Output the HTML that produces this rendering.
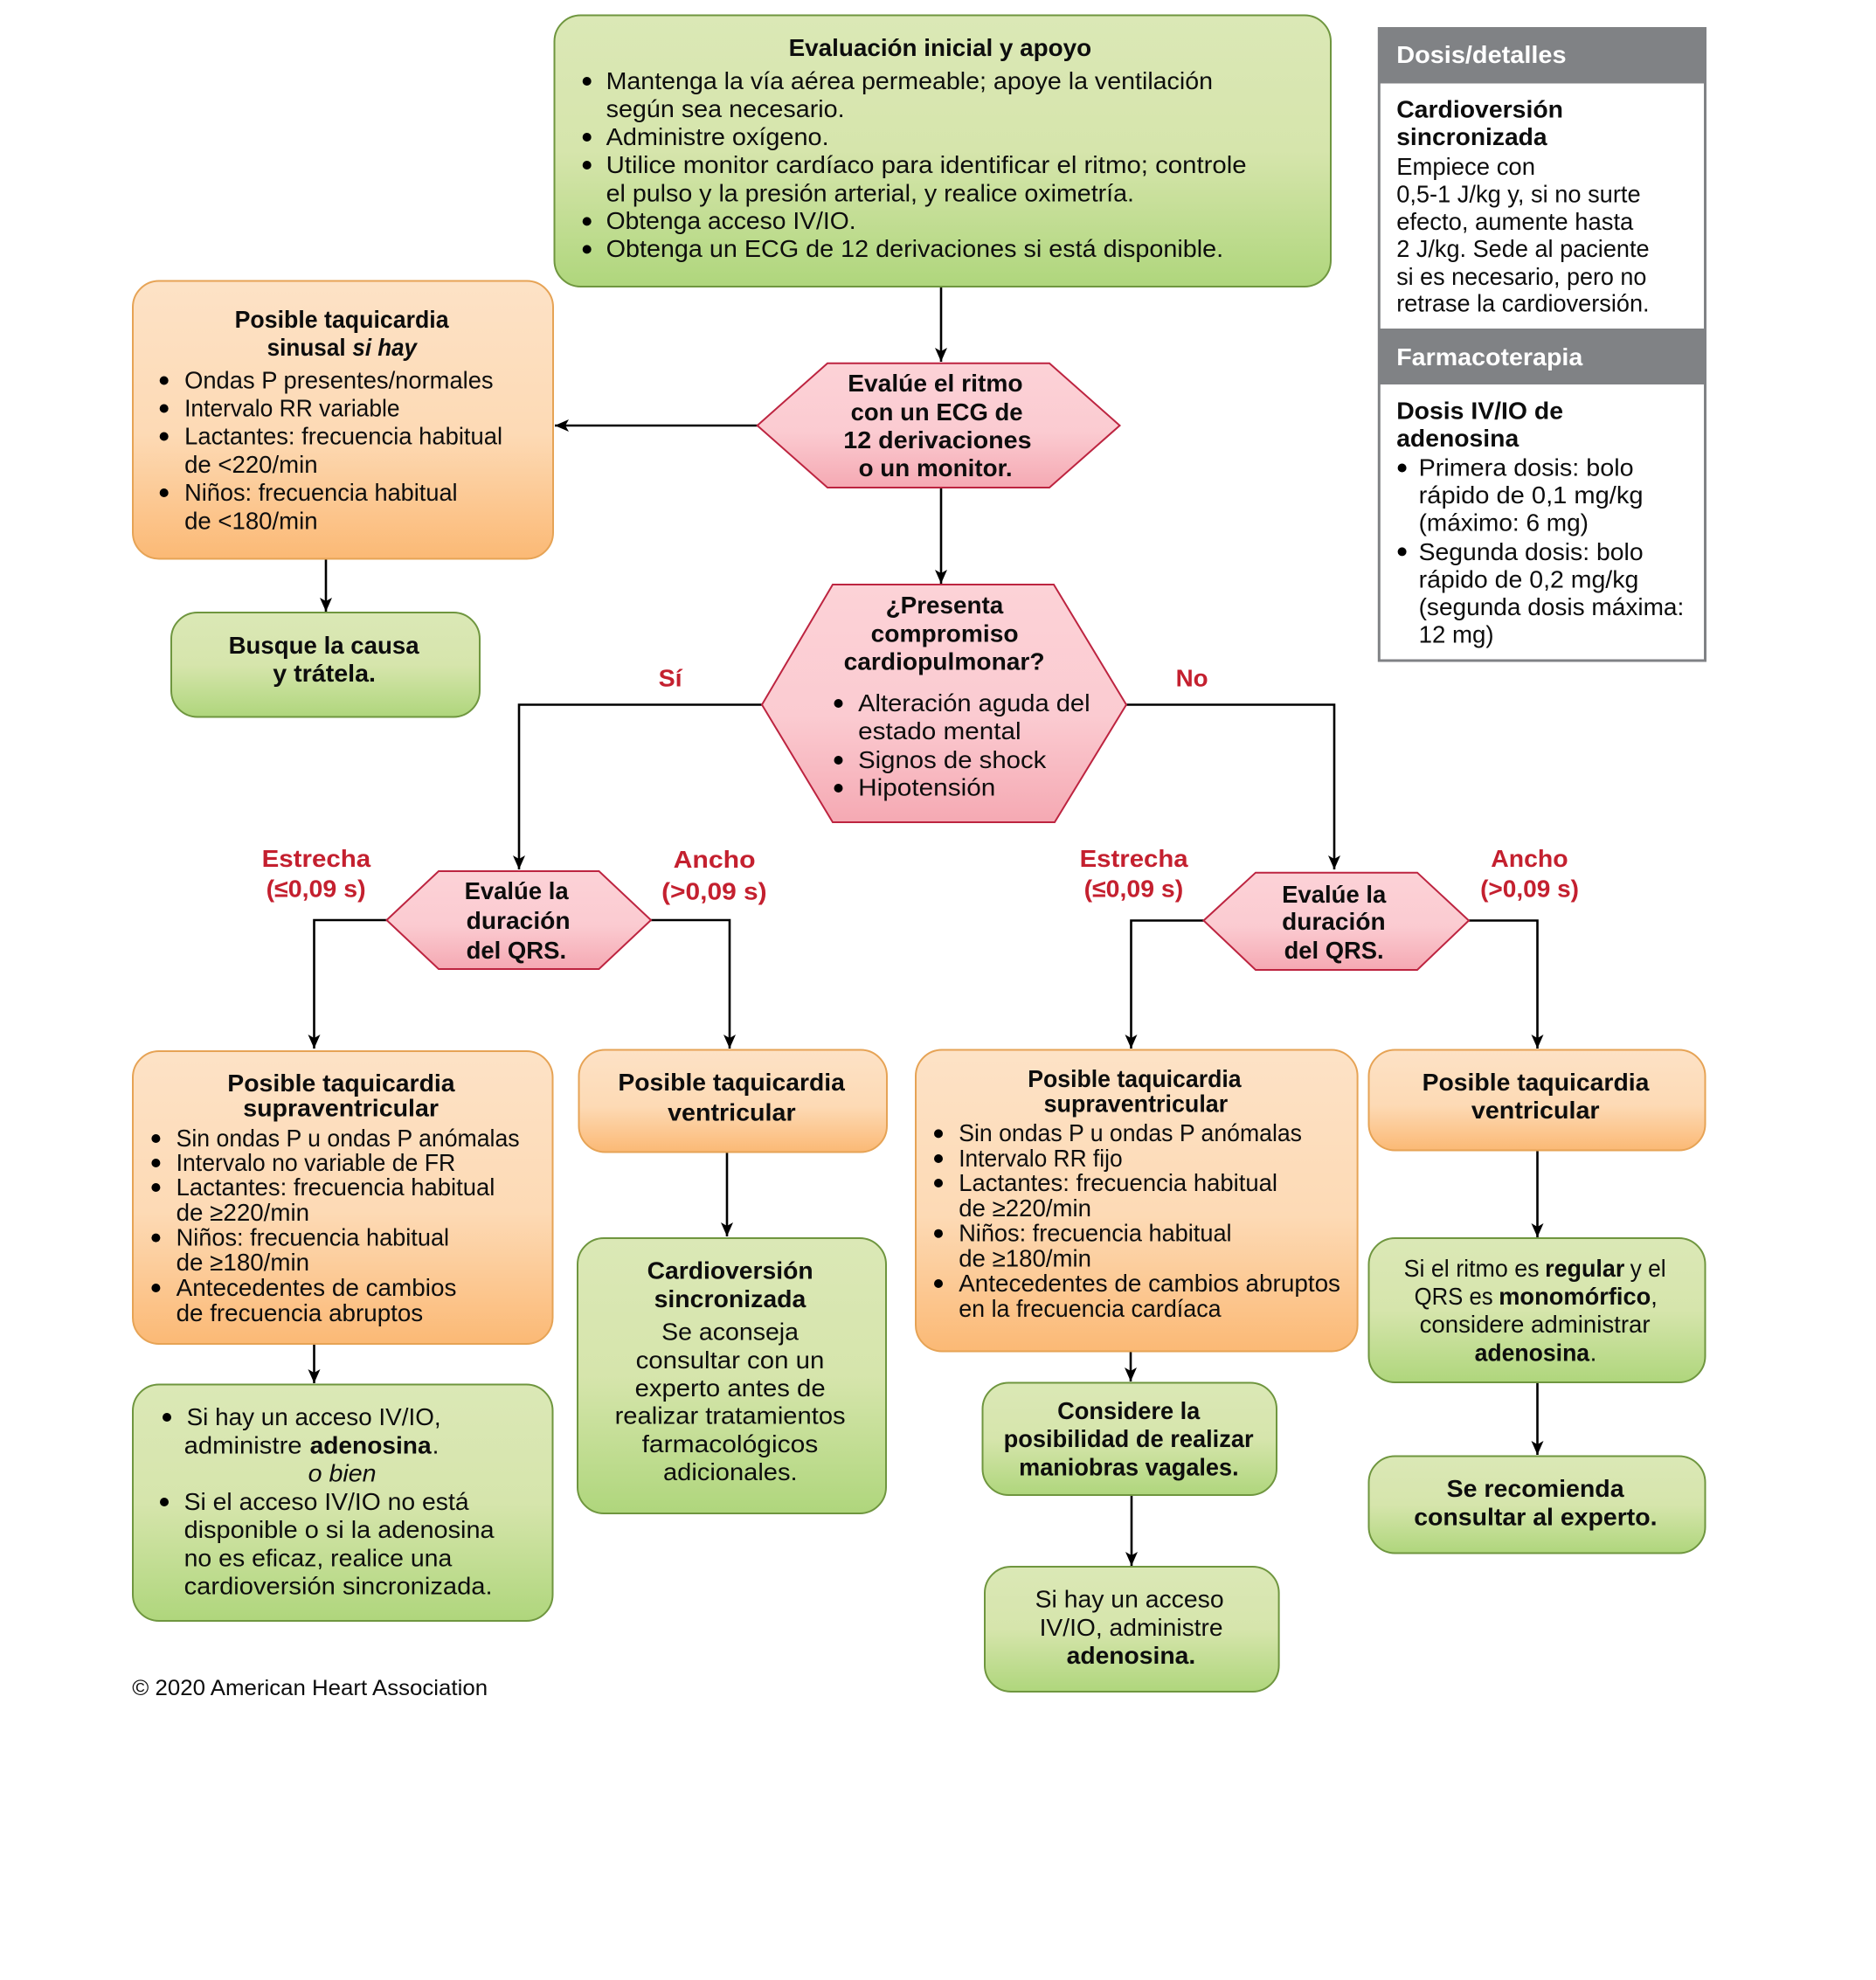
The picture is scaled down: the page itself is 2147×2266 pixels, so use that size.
<!DOCTYPE html>
<html lang="es"><head><meta charset="utf-8"><title>Taquicardia pediátrica</title>
<style>
html,body{margin:0;padding:0;background:#fff}
svg{display:block}
text{font-family:"Liberation Sans",Arial,sans-serif;font-size:28px;fill:#0d0d0d;transform:translate(-.4px,-1.2px)}
.b{font-weight:700}
.i{font-style:italic}
.r{fill:#c4202f;font-weight:700}
.w{fill:#fff;font-weight:700}
.g{stroke:#6f963f;stroke-width:2;fill:url(#gr)}
.o{stroke:#e6a355;stroke-width:2;fill:url(#or)}
.p{stroke:#bd2440;stroke-width:2;fill:url(#pk)}
.l{fill:none;stroke:#000;stroke-width:2.6}
</style></head><body>
<svg xmlns="http://www.w3.org/2000/svg" width="2147" height="2266" viewBox="0 0 2147 2266">
<defs>
<linearGradient id="gr" x1="0" y1="0" x2="0" y2="1"><stop offset="0" stop-color="#dbe8b6"/><stop offset=".5" stop-color="#d6e5ac"/><stop offset="1" stop-color="#afd67c"/></linearGradient>
<linearGradient id="or" x1="0" y1="0" x2="0" y2="1"><stop offset="0" stop-color="#fde2c6"/><stop offset=".55" stop-color="#fddab5"/><stop offset="1" stop-color="#fbb975"/></linearGradient>
<linearGradient id="pk" x1="0" y1="0" x2="0" y2="1"><stop offset="0" stop-color="#fcd2d7"/><stop offset=".55" stop-color="#fbcbd1"/><stop offset="1" stop-color="#f5a9b3"/></linearGradient>
<marker id="a" markerUnits="userSpaceOnUse" markerWidth="16" markerHeight="18" refX="16" refY="7" orient="auto"><path d="M0 0L16 7L0 14L4 7Z" fill="#000"/></marker>
</defs>

<!-- connectors -->
<path class="l" marker-end="url(#a)" d="M1077 328V414"/>
<path class="l" marker-end="url(#a)" d="M867 487H635"/>
<path class="l" marker-end="url(#a)" d="M1077 558V668"/>
<path class="l" marker-end="url(#a)" d="M373 640V700"/>
<path class="l" marker-end="url(#a)" d="M872 806.5H594V995"/>
<path class="l" marker-end="url(#a)" d="M1289 806.5H1527V995"/>
<path class="l" marker-end="url(#a)" d="M443 1053H359.5V1200"/>
<path class="l" marker-end="url(#a)" d="M745 1053H835V1200"/>
<path class="l" marker-end="url(#a)" d="M1378 1053.5H1294.5V1200"/>
<path class="l" marker-end="url(#a)" d="M1681 1053.5H1759.5V1200"/>
<path class="l" marker-end="url(#a)" d="M832 1319V1415"/>
<path class="l" marker-end="url(#a)" d="M359.5 1539V1583"/>
<path class="l" marker-end="url(#a)" d="M1759.5 1317V1416"/>
<path class="l" marker-end="url(#a)" d="M1759.5 1582V1665"/>
<path class="l" marker-end="url(#a)" d="M1294 1547V1581"/>
<path class="l" marker-end="url(#a)" d="M1295 1711V1792"/>

<!-- top box -->
<rect class="g" x="634.5" y="17.5" width="888.5" height="310.5" rx="30"/>
<text class="b" x="903" y="65" textLength="346.5" lengthAdjust="spacingAndGlyphs">Evaluación inicial y apoyo</text>
<circle cx="671.7" cy="93" r="5"/><text x="694" y="103" textLength="694.4" lengthAdjust="spacingAndGlyphs">Mantenga la vía aérea permeable; apoye la ventilación</text>
<text x="694" y="135" textLength="273" lengthAdjust="spacingAndGlyphs">según sea necesario.</text>
<circle cx="671.7" cy="157" r="5"/><text x="694" y="167" textLength="255" lengthAdjust="spacingAndGlyphs">Administre oxígeno.</text>
<circle cx="671.7" cy="189" r="5"/><text x="694" y="199" textLength="733" lengthAdjust="spacingAndGlyphs">Utilice monitor cardíaco para identificar el ritmo; controle</text>
<text x="694" y="231.5" textLength="604.4" lengthAdjust="spacingAndGlyphs">el pulso y la presión arterial, y realice oximetría.</text>
<circle cx="671.7" cy="253.4" r="5"/><text x="694" y="263.4" textLength="286" lengthAdjust="spacingAndGlyphs">Obtenga acceso IV/IO.</text>
<circle cx="671.7" cy="285.4" r="5"/><text x="694" y="295.4" textLength="706.5" lengthAdjust="spacingAndGlyphs">Obtenga un ECG de 12 derivaciones si está disponible.</text>

<!-- sinus box -->
<rect class="o" x="152" y="321.5" width="481" height="318" rx="30"/>
<text class="b" x="269" y="376" textLength="245" lengthAdjust="spacingAndGlyphs">Posible taquicardia</text>
<text class="b" x="306" y="408" textLength="90" lengthAdjust="spacingAndGlyphs">sinusal</text>
<text class="b i" x="403.8" y="408" textLength="73.6" lengthAdjust="spacingAndGlyphs">si hay</text>
<circle cx="187.7" cy="435.5" r="5"/><text x="211.5" y="445.5" textLength="353.5" lengthAdjust="spacingAndGlyphs">Ondas P presentes/normales</text>
<circle cx="187.7" cy="467.5" r="5"/><text x="211.5" y="477.5" textLength="246.5" lengthAdjust="spacingAndGlyphs">Intervalo RR variable</text>
<circle cx="187.7" cy="499.5" r="5"/><text x="211.5" y="509.5" textLength="364" lengthAdjust="spacingAndGlyphs">Lactantes: frecuencia habitual</text>
<text x="211.5" y="542" textLength="152.5" lengthAdjust="spacingAndGlyphs">de &lt;220/min</text>
<circle cx="187.7" cy="564" r="5"/><text x="211.5" y="574" textLength="312.5" lengthAdjust="spacingAndGlyphs">Niños: frecuencia habitual</text>
<text x="211.5" y="606.5" textLength="152.5" lengthAdjust="spacingAndGlyphs">de &lt;180/min</text>

<!-- busque -->
<rect class="g" x="196" y="701" width="353" height="119.5" rx="30"/>
<text class="b" x="262" y="749" textLength="218" lengthAdjust="spacingAndGlyphs">Busque la causa</text>
<text class="b" x="312.6" y="781" textLength="117.8" lengthAdjust="spacingAndGlyphs">y trátela.</text>

<!-- hex 1 -->
<polygon class="p" points="866.7,487 947,415.7 1201,415.7 1281.5,487 1201,558 947,558"/>
<text class="b" x="970.6" y="449" textLength="200.4" lengthAdjust="spacingAndGlyphs">Evalúe el ritmo</text>
<text class="b" x="974" y="482" textLength="197" lengthAdjust="spacingAndGlyphs">con un ECG de</text>
<text class="b" x="965.7" y="514" textLength="215.3" lengthAdjust="spacingAndGlyphs">12 derivaciones</text>
<text class="b" x="983" y="546" textLength="176" lengthAdjust="spacingAndGlyphs">o un monitor.</text>

<!-- hex 2 -->
<polygon class="p" points="872,806.5 953,669 1206,669 1289,806.5 1207,941 953,941"/>
<text class="b" x="1014" y="703" textLength="134.7" lengthAdjust="spacingAndGlyphs">¿Presenta</text>
<text class="b" x="997" y="735.5" textLength="169" lengthAdjust="spacingAndGlyphs">compromiso</text>
<text class="b" x="966" y="767.5" textLength="230" lengthAdjust="spacingAndGlyphs">cardiopulmonar?</text>
<circle cx="959.5" cy="805" r="5"/><text x="982.5" y="815" textLength="265.5" lengthAdjust="spacingAndGlyphs">Alteración aguda del</text>
<text x="982.5" y="847" textLength="186.5" lengthAdjust="spacingAndGlyphs">estado mental</text>
<circle cx="959.5" cy="870" r="5"/><text x="982.5" y="880" textLength="215.2" lengthAdjust="spacingAndGlyphs">Signos de shock</text>
<circle cx="959.5" cy="902" r="5"/><text x="982.5" y="911.7" textLength="157.2" lengthAdjust="spacingAndGlyphs">Hipotensión</text>

<text class="r" x="754" y="786.5" textLength="27" lengthAdjust="spacingAndGlyphs">Sí</text>
<text class="r" x="1346" y="786.5" textLength="37" lengthAdjust="spacingAndGlyphs">No</text>

<!-- hex 3 -->
<polygon class="p" points="442.5,1053 502,997 685.5,997 745,1053 685.5,1109 502,1109"/>
<text class="b" x="532" y="1030" textLength="119" lengthAdjust="spacingAndGlyphs">Evalúe la</text>
<text class="b" x="534" y="1064" textLength="119" lengthAdjust="spacingAndGlyphs">duración</text>
<text class="b" x="534" y="1098" textLength="114.5" lengthAdjust="spacingAndGlyphs">del QRS.</text>
<text class="r" x="300" y="993" textLength="124.6" lengthAdjust="spacingAndGlyphs">Estrecha</text>
<text class="r" x="305" y="1027.5" textLength="114" lengthAdjust="spacingAndGlyphs">(≤0,09 s)</text>
<text class="r" x="771" y="994" textLength="94" lengthAdjust="spacingAndGlyphs">Ancho</text>
<text class="r" x="757.5" y="1030.5" textLength="120.5" lengthAdjust="spacingAndGlyphs">(&gt;0,09 s)</text>

<!-- hex 4 -->
<polygon class="p" points="1377.5,1053.5 1437,998.7 1622,998.7 1681,1053.5 1622,1110 1437,1110"/>
<text class="b" x="1467.5" y="1034" textLength="119.2" lengthAdjust="spacingAndGlyphs">Evalúe la</text>
<text class="b" x="1467.5" y="1065.4" textLength="118.5" lengthAdjust="spacingAndGlyphs">duración</text>
<text class="b" x="1470" y="1098" textLength="114" lengthAdjust="spacingAndGlyphs">del QRS.</text>
<text class="r" x="1236" y="993" textLength="124" lengthAdjust="spacingAndGlyphs">Estrecha</text>
<text class="r" x="1241" y="1027.5" textLength="113.6" lengthAdjust="spacingAndGlyphs">(≤0,09 s)</text>
<text class="r" x="1706.6" y="993" textLength="88.4" lengthAdjust="spacingAndGlyphs">Ancho</text>
<text class="r" x="1694.5" y="1027.5" textLength="112.9" lengthAdjust="spacingAndGlyphs">(&gt;0,09 s)</text>

<!-- SVT left -->
<rect class="o" x="152" y="1203" width="480.5" height="335" rx="30"/>
<text class="b" x="260.7" y="1250" textLength="260.3" lengthAdjust="spacingAndGlyphs">Posible taquicardia</text>
<text class="b" x="278.6" y="1278.6" textLength="223.8" lengthAdjust="spacingAndGlyphs">supraventricular</text>
<circle cx="178.4" cy="1303" r="5"/><text x="202" y="1313" textLength="393" lengthAdjust="spacingAndGlyphs">Sin ondas P u ondas P anómalas</text>
<circle cx="178.4" cy="1331" r="5"/><text x="202" y="1341" textLength="319.6" lengthAdjust="spacingAndGlyphs">Intervalo no variable de FR</text>
<circle cx="178.4" cy="1359" r="5"/><text x="202" y="1369" textLength="364.8" lengthAdjust="spacingAndGlyphs">Lactantes: frecuencia habitual</text>
<text x="202" y="1398" textLength="152.5" lengthAdjust="spacingAndGlyphs">de ≥220/min</text>
<circle cx="178.4" cy="1416.6" r="5"/><text x="202" y="1426.6" textLength="312.5" lengthAdjust="spacingAndGlyphs">Niños: frecuencia habitual</text>
<text x="202" y="1455.4" textLength="152.5" lengthAdjust="spacingAndGlyphs">de ≥180/min</text>
<circle cx="178.4" cy="1474" r="5"/><text x="202" y="1484" textLength="320.8" lengthAdjust="spacingAndGlyphs">Antecedentes de cambios</text>
<text x="202" y="1513" textLength="282.6" lengthAdjust="spacingAndGlyphs">de frecuencia abruptos</text>

<!-- VT left -->
<rect class="o" x="662.5" y="1201.5" width="352.5" height="117" rx="30"/>
<text class="b" x="707.8" y="1249" textLength="259.5" lengthAdjust="spacingAndGlyphs">Posible taquicardia</text>
<text class="b" x="764.5" y="1283.5" textLength="146.5" lengthAdjust="spacingAndGlyphs">ventricular</text>

<!-- cardioversion -->
<rect class="g" x="661" y="1417" width="353" height="315" rx="30"/>
<text class="b" x="741" y="1464.5" textLength="190" lengthAdjust="spacingAndGlyphs">Cardioversión</text>
<text class="b" x="749" y="1497" textLength="173.7" lengthAdjust="spacingAndGlyphs">sincronizada</text>
<text x="757.5" y="1534.7" textLength="156.9" lengthAdjust="spacingAndGlyphs">Se aconseja</text>
<text x="728" y="1567" textLength="215.7" lengthAdjust="spacingAndGlyphs">consultar con un</text>
<text x="727" y="1599" textLength="218" lengthAdjust="spacingAndGlyphs">experto antes de</text>
<text x="704" y="1630.8" textLength="264" lengthAdjust="spacingAndGlyphs">realizar tratamientos</text>
<text x="735" y="1663" textLength="201.7" lengthAdjust="spacingAndGlyphs">farmacológicos</text>
<text x="759.4" y="1695" textLength="153.6" lengthAdjust="spacingAndGlyphs">adicionales.</text>

<!-- green left -->
<rect class="g" x="152" y="1584.5" width="480.5" height="270.5" rx="30"/>
<circle cx="191" cy="1622" r="5"/><text x="214" y="1632" textLength="291" lengthAdjust="spacingAndGlyphs">Si hay un acceso IV/IO,</text>
<text x="211" y="1664.5" textLength="135" lengthAdjust="spacingAndGlyphs">administre</text>
<text class="b" x="355" y="1664.5" textLength="139" lengthAdjust="spacingAndGlyphs">adenosina</text><text x="495" y="1664.5">.</text>
<text class="i" x="353" y="1696.7" textLength="78" lengthAdjust="spacingAndGlyphs">o bien</text>
<circle cx="188" cy="1719" r="5"/><text x="211" y="1729" textLength="326" lengthAdjust="spacingAndGlyphs">Si el acceso IV/IO no está</text>
<text x="211" y="1761" textLength="355" lengthAdjust="spacingAndGlyphs">disponible o si la adenosina</text>
<text x="211" y="1793.5" textLength="306.7" lengthAdjust="spacingAndGlyphs">no es eficaz, realice una</text>
<text x="211" y="1825.8" textLength="353" lengthAdjust="spacingAndGlyphs">cardioversión sincronizada.</text>

<text style="font-size:25px" x="151.7" y="1941" textLength="406.8" lengthAdjust="spacingAndGlyphs">© 2020 American Heart Association</text>

<!-- SVT right -->
<rect class="o" x="1048" y="1201.5" width="505.6" height="345" rx="30"/>
<text class="b" x="1176.6" y="1245" textLength="244.4" lengthAdjust="spacingAndGlyphs">Posible taquicardia</text>
<text class="b" x="1195" y="1273.7" textLength="210.6" lengthAdjust="spacingAndGlyphs">supraventricular</text>
<circle cx="1074" cy="1297.4" r="5"/><text x="1097.6" y="1307.4" textLength="392.8" lengthAdjust="spacingAndGlyphs">Sin ondas P u ondas P anómalas</text>
<circle cx="1074" cy="1326" r="5"/><text x="1097.6" y="1336" textLength="187.4" lengthAdjust="spacingAndGlyphs">Intervalo RR fijo</text>
<circle cx="1074" cy="1354" r="5"/><text x="1097.6" y="1364" textLength="364.8" lengthAdjust="spacingAndGlyphs">Lactantes: frecuencia habitual</text>
<text x="1097.6" y="1393" textLength="151.8" lengthAdjust="spacingAndGlyphs">de ≥220/min</text>
<circle cx="1074" cy="1411.7" r="5"/><text x="1097.6" y="1421.7" textLength="312.4" lengthAdjust="spacingAndGlyphs">Niños: frecuencia habitual</text>
<text x="1097.6" y="1450.5" textLength="151.8" lengthAdjust="spacingAndGlyphs">de ≥180/min</text>
<circle cx="1074" cy="1469" r="5"/><text x="1097.6" y="1479" textLength="436.8" lengthAdjust="spacingAndGlyphs">Antecedentes de cambios abruptos</text>
<text x="1097.6" y="1508" textLength="300.4" lengthAdjust="spacingAndGlyphs">en la frecuencia cardíaca</text>

<!-- VT right -->
<rect class="o" x="1566.5" y="1201.5" width="385" height="115" rx="30"/>
<text class="b" x="1628" y="1249" textLength="259.8" lengthAdjust="spacingAndGlyphs">Posible taquicardia</text>
<text class="b" x="1684.3" y="1281.4" textLength="146.7" lengthAdjust="spacingAndGlyphs">ventricular</text>

<!-- green right -->
<rect class="g" x="1566.5" y="1417" width="385" height="165" rx="30"/>
<text x="1607" y="1462.4" textLength="155" lengthAdjust="spacingAndGlyphs">Si el ritmo es</text>
<text class="b" x="1768.5" y="1462.4" textLength="91.2" lengthAdjust="spacingAndGlyphs">regular</text>
<text x="1866" y="1462.4" textLength="41" lengthAdjust="spacingAndGlyphs">y el</text>
<text x="1619" y="1494" textLength="90" lengthAdjust="spacingAndGlyphs">QRS es</text>
<text class="b" x="1715.6" y="1494" textLength="174.1" lengthAdjust="spacingAndGlyphs">monomórfico</text><text x="1889.5" y="1494">,</text>
<text x="1625" y="1526" textLength="264" lengthAdjust="spacingAndGlyphs">considere administrar</text>
<text class="b" x="1688" y="1558.5" textLength="131.5" lengthAdjust="spacingAndGlyphs">adenosina</text><text x="1820" y="1558.5">.</text>

<!-- experto -->
<rect class="g" x="1566.5" y="1666.5" width="385" height="111" rx="30"/>
<text class="b" x="1656" y="1714" textLength="203" lengthAdjust="spacingAndGlyphs">Se recomienda</text>
<text class="b" x="1618.6" y="1746.5" textLength="278.4" lengthAdjust="spacingAndGlyphs">consultar al experto.</text>

<!-- considere -->
<rect class="g" x="1124.5" y="1582.5" width="336.5" height="128.5" rx="30"/>
<text class="b" x="1210.5" y="1625" textLength="163.2" lengthAdjust="spacingAndGlyphs">Considere la</text>
<text class="b" x="1149" y="1657.4" textLength="286" lengthAdjust="spacingAndGlyphs">posibilidad de realizar</text>
<text class="b" x="1166.5" y="1689.7" textLength="251.5" lengthAdjust="spacingAndGlyphs">maniobras vagales.</text>

<!-- si hay -->
<rect class="g" x="1127" y="1793" width="336.6" height="143" rx="30"/>
<text x="1185" y="1840.5" textLength="216" lengthAdjust="spacingAndGlyphs">Si hay un acceso</text>
<text x="1190" y="1873" textLength="210" lengthAdjust="spacingAndGlyphs">IV/IO, administre</text>
<text class="b" x="1221" y="1905" textLength="147.6" lengthAdjust="spacingAndGlyphs">adenosina.</text>

<!-- side panel -->
<rect x="1578.3" y="32.5" width="373.2" height="723.5" fill="#fff" stroke="#808285" stroke-width="3"/>
<rect x="1577" y="31" width="376" height="64.5" fill="#808285"/>
<rect x="1577" y="376" width="376" height="64" fill="#808285"/>
<text class="w" x="1598.6" y="73" textLength="194.4" lengthAdjust="spacingAndGlyphs">Dosis/detalles</text>
<text class="b" x="1598.6" y="135.5" textLength="190.8" lengthAdjust="spacingAndGlyphs">Cardioversión</text>
<text class="b" x="1598.6" y="167" textLength="172.4" lengthAdjust="spacingAndGlyphs">sincronizada</text>
<text x="1598.6" y="201" textLength="158.8" lengthAdjust="spacingAndGlyphs">Empiece con</text>
<text x="1598.6" y="232.5" textLength="279.4" lengthAdjust="spacingAndGlyphs">0,5-1 J/kg y, si no surte</text>
<text x="1598.6" y="264" textLength="271.1" lengthAdjust="spacingAndGlyphs">efecto, aumente hasta</text>
<text x="1598.6" y="295.4" textLength="289.4" lengthAdjust="spacingAndGlyphs">2 J/kg. Sede al paciente</text>
<text x="1598.6" y="327" textLength="286.2" lengthAdjust="spacingAndGlyphs">si es necesario, pero no</text>
<text x="1598.6" y="357.7" textLength="289.4" lengthAdjust="spacingAndGlyphs">retrase la cardioversión.</text>
<text class="w" x="1598.6" y="419" textLength="213.1" lengthAdjust="spacingAndGlyphs">Farmacoterapia</text>
<text class="b" x="1598.6" y="480.8" textLength="190.8" lengthAdjust="spacingAndGlyphs">Dosis IV/IO de</text>
<text class="b" x="1598.6" y="512" textLength="140" lengthAdjust="spacingAndGlyphs">adenosina</text>
<circle cx="1604.6" cy="535.5" r="5"/><text x="1624" y="545.8" textLength="246" lengthAdjust="spacingAndGlyphs">Primera dosis: bolo</text>
<text x="1624" y="577" textLength="257" lengthAdjust="spacingAndGlyphs">rápido de 0,1 mg/kg</text>
<text x="1624" y="608.7" textLength="194.4" lengthAdjust="spacingAndGlyphs">(máximo: 6 mg)</text>
<circle cx="1604.6" cy="631.4" r="5"/><text x="1624" y="642" textLength="257" lengthAdjust="spacingAndGlyphs">Segunda dosis: bolo</text>
<text x="1624" y="673.7" textLength="251.7" lengthAdjust="spacingAndGlyphs">rápido de 0,2 mg/kg</text>
<text x="1624" y="705" textLength="303.7" lengthAdjust="spacingAndGlyphs">(segunda dosis máxima:</text>
<text x="1624" y="736.6" textLength="86" lengthAdjust="spacingAndGlyphs">12 mg)</text>
</svg>
</body></html>
